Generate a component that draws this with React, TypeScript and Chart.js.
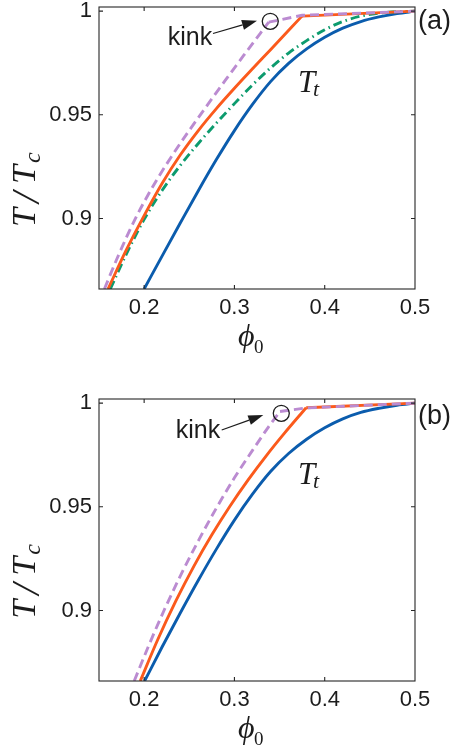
import React, { useEffect, useRef } from 'react';
import { Chart, registerables } from 'chart.js';

Chart.register(...registerables);

// ---------- axes ----------
const X_MIN = 0.15;
const X_MAX = 0.5;
const Y_MIN = 0.866;
const Y_MAX = 1.002;
const xTickValues = [0.2, 0.3, 0.4, 0.5];
const yTickValues = [0.9, 0.95, 1];

// ---------- panel (a) ----------
const phiPurpleA = [0.156, 0.17, 0.19, 0.21, 0.23, 0.25, 0.27, 0.29, 0.31, 0.338, 0.375, 0.5];
const tPurpleA = [0.866, 0.8807, 0.8997, 0.9157, 0.9297, 0.9425, 0.9547, 0.9667, 0.9785, 0.9947, 0.998, 1.0];

const phiOrangeA = [0.16, 0.18, 0.2, 0.22, 0.24, 0.26, 0.28, 0.3, 0.32, 0.34, 0.3748, 0.5];
const tOrangeA = [0.866, 0.8846, 0.9014, 0.917, 0.9306, 0.9424, 0.953, 0.9628, 0.9722, 0.9814, 0.9976, 1.0];

const phiGreenA = [0.1625, 0.18, 0.2, 0.22, 0.24, 0.26, 0.28, 0.3, 0.32, 0.34, 0.36, 0.38, 0.4, 0.42, 0.44, 0.46, 0.48, 0.5];
const tGreenA = [0.866, 0.8826, 0.8996, 0.9136, 0.9256, 0.9362, 0.946, 0.9554, 0.9644, 0.9726, 0.9798, 0.9858, 0.991, 0.995, 0.9976, 0.999, 0.9997, 1.0];

const phiBlueA = [0.2, 0.22, 0.24, 0.26, 0.28, 0.3, 0.32, 0.34, 0.36, 0.38, 0.4, 0.42, 0.44, 0.46, 0.48, 0.5];
const tBlueA = [0.866, 0.882, 0.8978, 0.9134, 0.9284, 0.9424, 0.955, 0.966, 0.9748, 0.9818, 0.9874, 0.9918, 0.995, 0.9972, 0.9988, 1.0];

// ---------- panel (b) ----------
const phiPurpleB = [0.189, 0.205, 0.222, 0.24, 0.26, 0.28, 0.3, 0.32, 0.338, 0.3505, 0.3795, 0.5];
const tPurpleB = [0.866, 0.883, 0.9, 0.9166, 0.9336, 0.9494, 0.964, 0.9772, 0.9887, 0.996, 0.9977, 1.0];

const phiOrangeB = [0.1957, 0.215, 0.235, 0.255, 0.275, 0.295, 0.315, 0.335, 0.355, 0.3795, 0.5];
const tOrangeB = [0.866, 0.8859, 0.9045, 0.9213, 0.9365, 0.9503, 0.9629, 0.9745, 0.9853, 0.9978, 1.0];

const phiBlueB = [0.2005, 0.22, 0.24, 0.26, 0.28, 0.3, 0.32, 0.34, 0.36, 0.38, 0.4, 0.42, 0.44, 0.46, 0.48, 0.5];
const tBlueB = [0.866, 0.8825, 0.8988, 0.9146, 0.9296, 0.9436, 0.9561, 0.967, 0.9757, 0.9826, 0.9881, 0.9924, 0.9955, 0.9975, 0.999, 1.0];

// ---------- styles ----------
const SANS = '"Liberation Sans", Arial, Helvetica, sans-serif';
const SERIF = '"Liberation Serif", "Times New Roman", "DejaVu Serif", serif';
const INK = '#1c1c1c';
const COLORS = {
  blue: '#0b5cad',
  orange: '#fb5a1c',
  purple: '#bb8bd1',
  green: '#0d9b6e',
};

type Series = { xs: number[]; ys: number[]; color: string; dash: number[]; kink: number };

function buildDatasets(series: Series[]) {
  const ds: any[] = [];
  for (const s of series) {
    const pts = s.xs.map((x, i) => ({ x, y: s.ys[i] }));
    const pieces = s.kink >= 0 ? [pts.slice(0, s.kink + 1), pts.slice(s.kink)] : [pts];
    pieces.forEach((p, j) => {
      ds.push({
        data: p,
        borderColor: s.color,
        borderWidth: 2.9,
        borderDash: s.dash,
        borderCapStyle: 'butt',
        pointRadius: 0,
        fill: false,
        cubicInterpolationMode: j === 0 ? 'monotone' : 'default',
        tension: 0,
      });
    });
  }
  return ds;
}

type Decor = {
  tag: string;
  tagY: number;
  kinkX: number;
  kinkY: number;
  arrowFrom: [number, number];
  arrowTo: [number, number];
  circle: [number, number];
  tt: [number, number];
  yTitleY: number;
  xTitleY: number;
};

function drawDecor(chart: any, d: Decor) {
  const { ctx, chartArea: a } = chart;
  const xs = chart.scales.x;
  const ys = chart.scales.y;
  ctx.save();
  // frame
  ctx.strokeStyle = '#262626';
  ctx.lineWidth = 1.1;
  ctx.strokeRect(a.left, a.top, a.right - a.left, a.bottom - a.top);
  // inner ticks on all four sides
  ctx.beginPath();
  for (const v of xTickValues) {
    const px = xs.getPixelForValue(v);
    if (px >= a.right - 1) continue;
    ctx.moveTo(px, a.bottom);
    ctx.lineTo(px, a.bottom - 4);
    ctx.moveTo(px, a.top);
    ctx.lineTo(px, a.top + 4);
  }
  for (const v of yTickValues) {
    const py = ys.getPixelForValue(v);
    ctx.moveTo(a.left, py);
    ctx.lineTo(a.left + 4, py);
    ctx.moveTo(a.right, py);
    ctx.lineTo(a.right - 4, py);
  }
  ctx.stroke();

  ctx.fillStyle = INK;
  ctx.strokeStyle = INK;

  // panel tag
  ctx.font = `27px ${SANS}`;
  ctx.textAlign = 'left';
  ctx.textBaseline = 'alphabetic';
  ctx.fillText(d.tag, 418, d.tagY);

  // kink label
  ctx.font = `25px ${SANS}`;
  ctx.textAlign = 'center';
  ctx.fillText('kink', d.kinkX, d.kinkY);

  // arrow
  const [x0, y0] = d.arrowFrom;
  const [x1, y1] = d.arrowTo;
  const ang = Math.atan2(y1 - y0, x1 - x0);
  const hl = 15;
  const hw = 5;
  const bx = x1 - hl * Math.cos(ang);
  const by = y1 - hl * Math.sin(ang);
  ctx.lineWidth = 1.2;
  ctx.beginPath();
  ctx.moveTo(x0, y0);
  ctx.lineTo(bx, by);
  ctx.stroke();
  ctx.beginPath();
  ctx.moveTo(x1, y1);
  ctx.lineTo(bx + hw * Math.sin(ang), by - hw * Math.cos(ang));
  ctx.lineTo(bx - hw * Math.sin(ang), by + hw * Math.cos(ang));
  ctx.closePath();
  ctx.fill();

  // circle around the kink
  const cx = xs.getPixelForValue(d.circle[0]);
  const cy = ys.getPixelForValue(d.circle[1]);
  ctx.lineWidth = 1.3;
  ctx.beginPath();
  ctx.arc(cx, cy, 8, 0, Math.PI * 2);
  ctx.stroke();

  // T_t label
  const tx = xs.getPixelForValue(d.tt[0]);
  const ty = ys.getPixelForValue(d.tt[1]);
  ctx.textAlign = 'left';
  ctx.font = `italic 31px ${SERIF}`;
  ctx.fillText('T', tx, ty);
  ctx.font = `italic 22px ${SERIF}`;
  ctx.fillText('t', tx + 15, ty + 4.4);

  // y-axis title  T / T_c  (rotated)
  ctx.save();
  ctx.translate(35, d.yTitleY);
  ctx.rotate(-Math.PI / 2);
  ctx.font = `italic 34px ${SERIF}`;
  ctx.fillText('T', 0, 0);
  ctx.fillText('T', 43, 0);
  ctx.font = `italic 40px ${SERIF}`;
  ctx.fillText('/', 24, 4);
  ctx.font = `italic 24px ${SERIF}`;
  ctx.fillText('c', 64, 5);
  ctx.restore();

  // x-axis title  phi_0
  ctx.font = `italic 32px ${SERIF}`;
  ctx.fillText('\u03D5', 238, d.xTitleY);
  ctx.font = `19px ${SERIF}`;
  ctx.fillText('0', 254, d.xTitleY + 7);

  ctx.restore();
}

function makeConfig(series: Series[], decor: Decor, top: number, axisH: number): any {
  return {
    type: 'line',
    data: { datasets: buildDatasets(series) },
    options: {
      animation: false,
      responsive: false,
      devicePixelRatio: 1,
      layout: { padding: { left: 0, right: 39, top, bottom: 0 } },
      plugins: { legend: { display: false }, tooltip: { enabled: false } },
      elements: { point: { radius: 0 } },
      scales: {
        x: {
          type: 'linear',
          min: X_MIN,
          max: X_MAX,
          grid: { display: false, drawTicks: false },
          border: { display: false },
          afterBuildTicks: (s: any) => {
            s.ticks = xTickValues.map((v) => ({ value: v }));
          },
          afterFit: (s: any) => {
            s.height = axisH;
            s.paddingLeft = 0;
            s.paddingRight = 0;
          },
          ticks: {
            padding: 6,
            maxRotation: 0,
            autoSkip: false,
            color: INK,
            font: { family: SANS, size: 22 },
            callback: (v: any) => String(v),
          },
        },
        y: {
          type: 'linear',
          min: Y_MIN,
          max: Y_MAX,
          grid: { display: false, drawTicks: false },
          border: { display: false },
          afterBuildTicks: (s: any) => {
            s.ticks = yTickValues.map((v) => ({ value: v }));
          },
          afterFit: (s: any) => {
            s.width = 99;
            s.paddingTop = 0;
            s.paddingBottom = 0;
          },
          ticks: {
            padding: 7,
            autoSkip: false,
            color: INK,
            font: { family: SANS, size: 22 },
            callback: (v: any) => String(v),
          },
        },
      },
    },
    plugins: [
      {
        id: 'decor',
        afterDraw: (chart: any) => drawDecor(chart, decor),
      },
    ],
  };
}

const seriesA: Series[] = [
  { xs: phiPurpleA, ys: tPurpleA, color: COLORS.purple, dash: [9, 5], kink: 9 },
  { xs: phiOrangeA, ys: tOrangeA, color: COLORS.orange, dash: [], kink: 10 },
  { xs: phiGreenA, ys: tGreenA, color: COLORS.green, dash: [9, 4, 1.5, 4], kink: -1 },
  { xs: phiBlueA, ys: tBlueA, color: COLORS.blue, dash: [], kink: -1 },
];

const seriesB: Series[] = [
  { xs: phiPurpleB, ys: tPurpleB, color: COLORS.purple, dash: [9, 5], kink: 9 },
  { xs: phiOrangeB, ys: tOrangeB, color: COLORS.orange, dash: [], kink: 9 },
  { xs: phiBlueB, ys: tBlueB, color: COLORS.blue, dash: [], kink: -1 },
];

const decorA: Decor = {
  tag: '(a)',
  tagY: 29,
  kinkX: 190,
  kinkY: 45,
  arrowFrom: [213, 33.5],
  arrowTo: [257, 20.7],
  circle: [0.3397, 0.9951],
  tt: [0.3705, 0.961],
  yTitleY: 227,
  xTitleY: 346,
};

const decorB: Decor = {
  tag: '(b)',
  tagY: 49,
  kinkX: 198,
  kinkY: 63,
  arrowFrom: [221.7, 55],
  arrowTo: [263.3, 40],
  circle: [0.3519, 0.9951],
  tt: [0.3705, 0.961],
  yTitleY: 243.7,
  xTitleY: 362.7,
};

function Panel({ series, decor, top, axisH }: { series: Series[]; decor: Decor; top: number; axisH: number }) {
  const ref = useRef<HTMLCanvasElement>(null);
  useEffect(() => {
    const chart = new Chart(ref.current as HTMLCanvasElement, makeConfig(series, decor, top, axisH));
    return () => chart.destroy();
  }, [series, decor, top, axisH]);
  return <canvas ref={ref} width={454} height={375} style={{ display: 'block', width: 454, height: 375 }} />;
}

export default function App() {
  return (
    <div style={{ position: 'absolute', left: 0, top: 0, width: 454, height: 750, background: '#ffffff' }}>
      <Panel series={seriesA} decor={decorA} top={7} axisH={86} />
      <Panel series={seriesB} decor={decorB} top={24} axisH={69} />
    </div>
  );
}
